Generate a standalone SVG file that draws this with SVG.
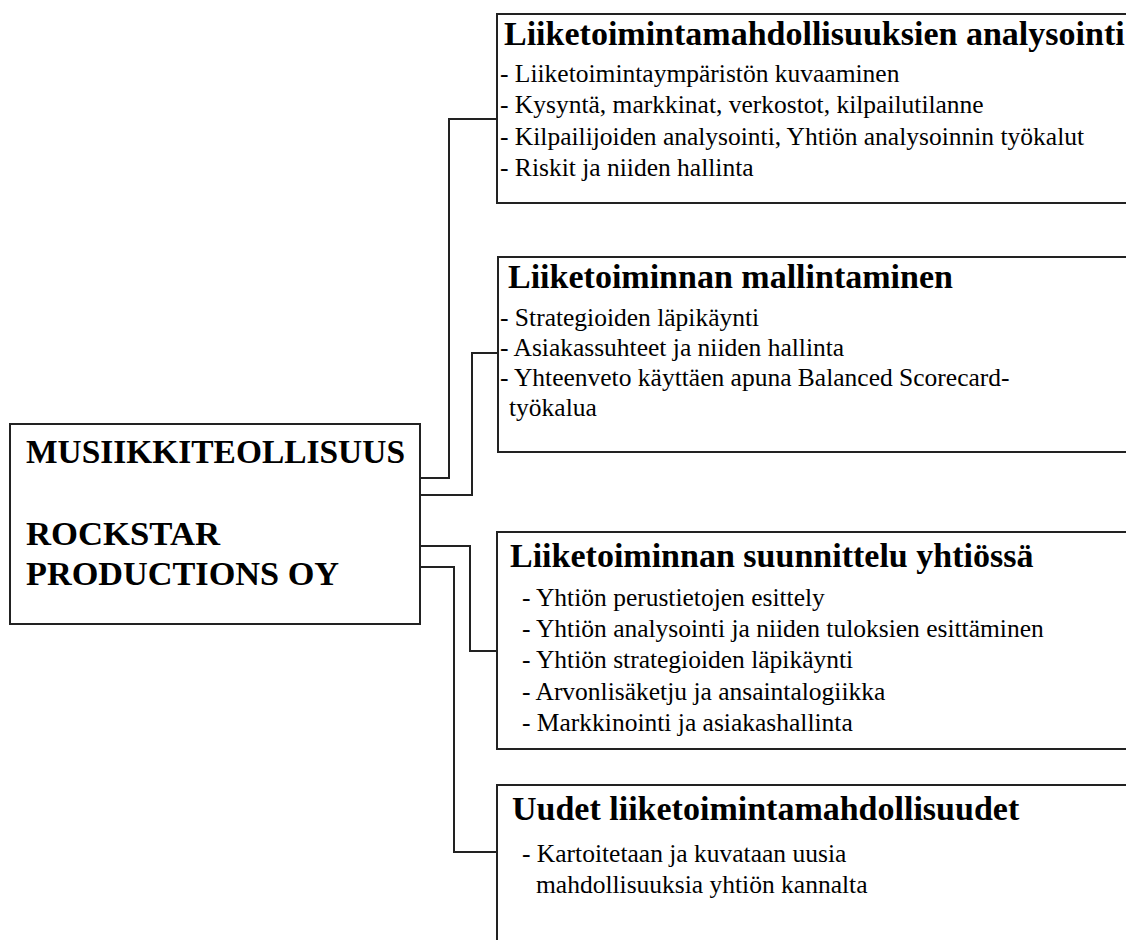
<svg xmlns="http://www.w3.org/2000/svg" width="1126" height="940" viewBox="0 0 1126 940">
  <style>
    .box { fill: #ffffff; stroke: #222222; stroke-width: 2; }
    .link { fill: none; stroke: #222222; stroke-width: 2; }
    text { font-family: "Liberation Serif", "DejaVu Serif", serif; fill: #000000; }
    .main { font-weight: bold; font-size: 33px; }
    .title { font-weight: bold; font-size: 34px; }
    .item { font-size: 25.5px; }
  </style>
  <rect width="1126" height="940" fill="#ffffff"/>

  <!-- connectors from the company box to each topic box -->
  <g id="connectors">
    <path class="link" d="M420,478 H449 V119 H497"/>
    <path class="link" d="M420,495 H472 V353 H498"/>
    <path class="link" d="M420,546 H470 V651 H497"/>
    <path class="link" d="M420,567 H454 V852 H497"/>
  </g>

  <!-- company -->
  <g id="company">
    <rect class="box" x="10" y="424" width="410" height="200"/>
    <text class="main" x="26" y="463" textLength="379" lengthAdjust="spacingAndGlyphs">MUSIIKKITEOLLISUUS</text>
    <text class="main" x="26" y="545" textLength="194" lengthAdjust="spacingAndGlyphs">ROCKSTAR</text>
    <text class="main" x="26" y="585" textLength="313" lengthAdjust="spacingAndGlyphs">PRODUCTIONS OY</text>
  </g>

  <!-- topic 1 -->
  <g id="analysis">
    <rect class="box" x="497" y="14" width="660" height="189"/>
    <text class="title" x="504" y="45">Liiketoimintamahdollisuuksien analysointi</text>
    <text class="item" x="500" y="82">- Liiketoimintaympäristön kuvaaminen</text>
    <text class="item" x="500" y="113">- Kysyntä, markkinat, verkostot, kilpailutilanne</text>
    <text class="item" x="500" y="145">- Kilpailijoiden analysointi, Yhtiön analysoinnin työkalut</text>
    <text class="item" x="500" y="176">- Riskit ja niiden hallinta</text>
  </g>

  <!-- topic 2 -->
  <g id="modelling">
    <rect class="box" x="498" y="257" width="660" height="195"/>
    <text class="title" x="508" y="288">Liiketoiminnan mallintaminen</text>
    <text class="item" x="500" y="326">- Strategioiden läpikäynti</text>
    <text class="item" x="500" y="356">- Asiakassuhteet ja niiden hallinta</text>
    <text class="item" x="500" y="386">- Yhteenveto käyttäen apuna Balanced Scorecard-</text>
    <text class="item" x="509" y="416">työkalua</text>
  </g>

  <!-- topic 3 -->
  <g id="planning">
    <rect class="box" x="497" y="532" width="660" height="217"/>
    <text class="title" x="510" y="567">Liiketoiminnan suunnittelu yhtiössä</text>
    <text class="item" x="522" y="606">- Yhtiön perustietojen esittely</text>
    <text class="item" x="522" y="637">- Yhtiön analysointi ja niiden tuloksien esittäminen</text>
    <text class="item" x="522" y="668">- Yhtiön strategioiden läpikäynti</text>
    <text class="item" x="522" y="700">- Arvonlisäketju ja ansaintalogiikka</text>
    <text class="item" x="522" y="731">- Markkinointi ja asiakashallinta</text>
  </g>

  <!-- topic 4 -->
  <g id="opportunities">
    <rect class="box" x="497" y="785" width="660" height="200"/>
    <text class="title" x="512" y="820">Uudet liiketoimintamahdollisuudet</text>
    <text class="item" x="522" y="862">- Kartoitetaan ja kuvataan uusia</text>
    <text class="item" x="536" y="893">mahdollisuuksia yhtiön kannalta</text>
  </g>
</svg>
